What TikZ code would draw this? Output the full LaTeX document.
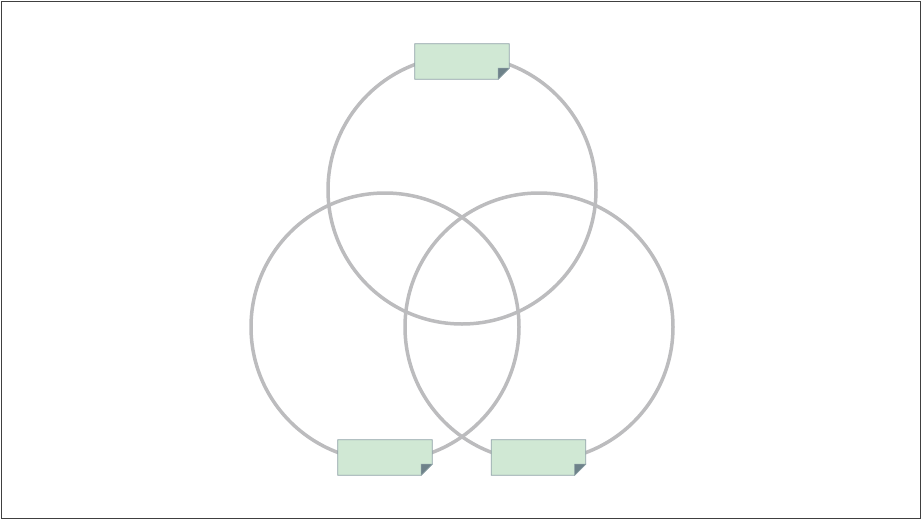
\documentclass[tikz,border=0pt]{standalone}
\usepackage{xcolor}
\usetikzlibrary{positioning, calc}

\definecolor{ringgray}{RGB}{188,188,190}
\definecolor{notegreen}{RGB}{208,232,212}
\definecolor{noteedge}{RGB}{140,160,165}
\definecolor{notefold}{RGB}{110,130,138}
\definecolor{framegray}{RGB}{64,64,64}

\begin{document}
\begin{tikzpicture}[
        x=1pt, y=-1pt,
        % 1. estilos
        ring/.style={circle, draw=ringgray, line width=3.5pt, minimum size=268pt, inner sep=0pt},
        note/.style={rectangle, minimum width=94pt, minimum height=35pt, inner sep=0pt},
        noteface/.style={fill=notegreen, draw=noteedge, line width=0.8pt, line join=miter},
        fold/.style={fill=notefold, draw=noteedge, line width=0.5pt}
    ]
        \useasboundingbox (0,0) rectangle (922,520);
        \draw[framegray, line width=0.8pt] (1.5,1.5) rectangle (920.5,518.5);

        % 2. circulos
        \node[ring] (ctop) at (462,190) {};
        \node[ring] (cleft) at (385,327) {};
        \node[ring] (cright) at (539,327) {};

        % 3. etiquetas
        \node[note] (ntop) at (462,61.5) {};
        \node[note] (nleft) at (385,457.5) {};
        \node[note] (nright) at (538.5,457.5) {};

        \foreach \n in {ntop,nleft,nright} {
            \filldraw[noteface] (\n.north west) -- (\n.north east)
                -- ($(\n.south east)+(0,-11)$) -- ($(\n.south east)+(-11,0)$)
                -- (\n.south west) -- cycle;
            \filldraw[fold] ($(\n.south east)+(0,-11)$) -- ($(\n.south east)+(-11,-11)$)
                -- ($(\n.south east)+(-11,0)$) -- cycle;
        }

    \end{tikzpicture}
\end{document}
